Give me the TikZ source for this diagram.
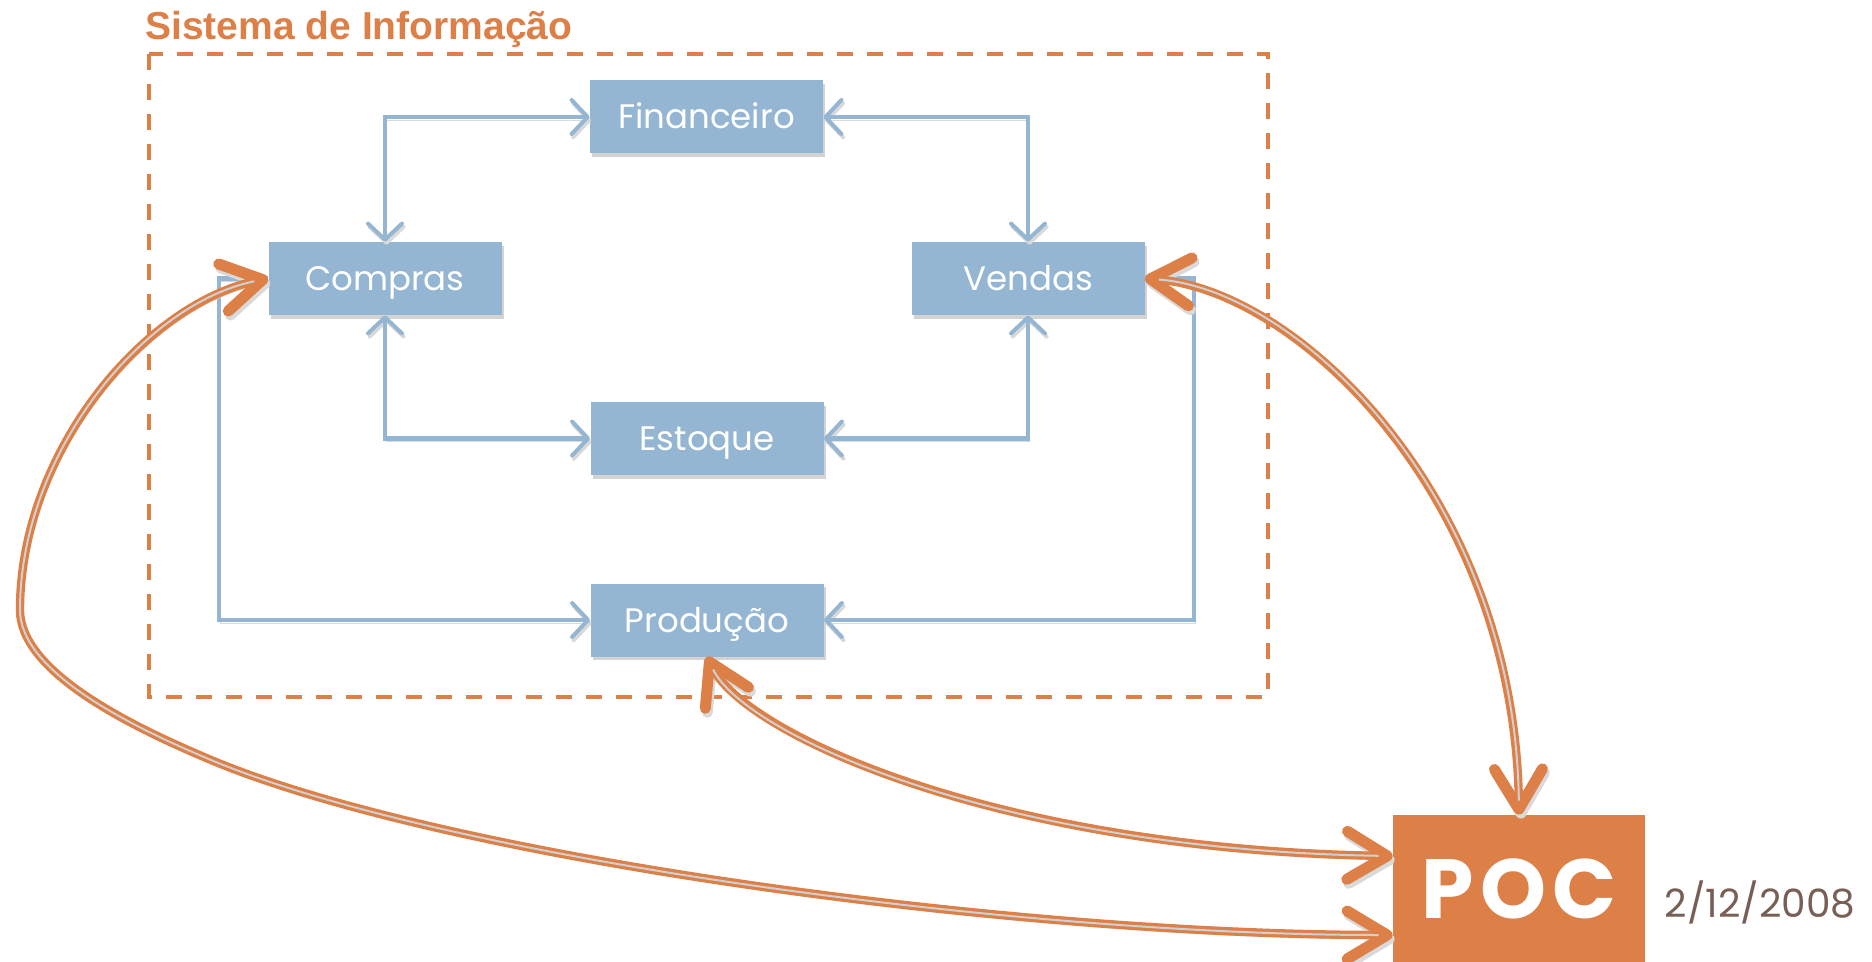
\documentclass[tikz,border=0pt]{standalone}
\usepackage{fontspec}
\setmainfont{Poppins}
\newfontfamily\titlefont{Liberation Sans}
\usetikzlibrary{arrows.meta,shadows,calc}
\definecolor{boxblue}{HTML}{94B6D2}
\definecolor{linkorange}{HTML}{DD8047}
\definecolor{dategray}{HTML}{775F55}
\definecolor{innergray}{HTML}{D0D0D0}
\tikzset{
  sector/.style={fill=boxblue, text=white, minimum width=116.5pt, minimum height=36.5pt,
    inner sep=0pt, text height=12pt, text depth=0pt, font=\fontsize{17}{20}\selectfont,
    drop shadow={opacity=0.35, shadow xshift=1.2pt, shadow yshift=-1.8pt}},
  pocbox/.style={fill=linkorange, text=white, minimum width=126pt, minimum height=73.5pt,
    inner sep=0pt, font=\bfseries\fontsize{42}{46}\selectfont\addfontfeatures{LetterSpace=8}},
  frame/.style={draw=linkorange, line width=2pt, dash pattern=on 8pt off 7pt},
  bluelink/.style={draw=boxblue, line width=2.2pt,
    >={Straight Barb[length=8pt,width=17pt,line width=2pt,round]},
    preaction={draw=black!15, transform canvas={xshift=0.8pt,yshift=-1.6pt}}},
  orangelink/.style={draw=linkorange, line width=4.2pt,
    {Straight Barb[length=20pt,width=24pt,line width=5.5pt,round]}-{Straight Barb[length=20pt,width=24pt,line width=5.5pt,round]},
    preaction={draw=black!15, transform canvas={xshift=1pt,yshift=-2pt}},
    postaction={draw=innergray, line width=1pt, -, shorten <=7pt, shorten >=7pt}}
}
\begin{document}
\begin{tikzpicture}[x=0.5pt,y=-0.5pt]
\useasboundingbox (0,0) rectangle (1872,962);
% titulo e moldura
\node[anchor=base west, inner sep=0pt, text=linkorange,
  font=\titlefont\bfseries\fontsize{19.5}{22}\selectfont] (title) at (145,40) {Sistema de Informação};
\draw[frame] (149,54) rectangle (1268,697);
% setores
\node[sector] (fin) at (706.5,117) {Financeiro};
\node[sector] (com) at (385,278.5) {Compras};
\node[sector] (ven) at (1028,278.5) {Vendas};
\node[sector] (est) at (707,438.5) {Estoque};
\node[sector] (pro) at (707,620) {Produção};
\node[pocbox] (poc) at (1519,888.5) {POC};
\node[anchor=base, inner sep=0pt, text=dategray, font=\fontsize{19.5}{22}\selectfont] (date) at (1760,917) {2/12/2008};
% ligacoes internas
\draw[bluelink,<->] (fin.west) -| (com.north);
\draw[bluelink,<->] (fin.east) -| (ven.north);
\draw[bluelink,<->] (com.south) |- (est.west);
\draw[bluelink,<->] (ven.south) |- (est.east);
\draw[bluelink,->] (com.west) -- ++(-49,0) |- (pro.west);
\draw[bluelink,->] (ven.east) -- ++(49,0) |- (pro.east);
% ligacoes com o POC
\draw[orangelink] (com.west) .. controls (147,303) and (20,450) .. (20,610)
  .. controls (20,670) and (124,723) .. (204,757)
  .. controls (430,855) and (1000,935) .. ($(poc.west)+(0,46.5)$);
\draw[orangelink] (pro.south) .. controls (745,735) and (1000,850) .. ($(poc.west)+(0,-32.5)$);
\draw[orangelink] (ven.east) .. controls (1300,290) and (1515,500) .. (poc.north);
\end{tikzpicture}
\end{document}
